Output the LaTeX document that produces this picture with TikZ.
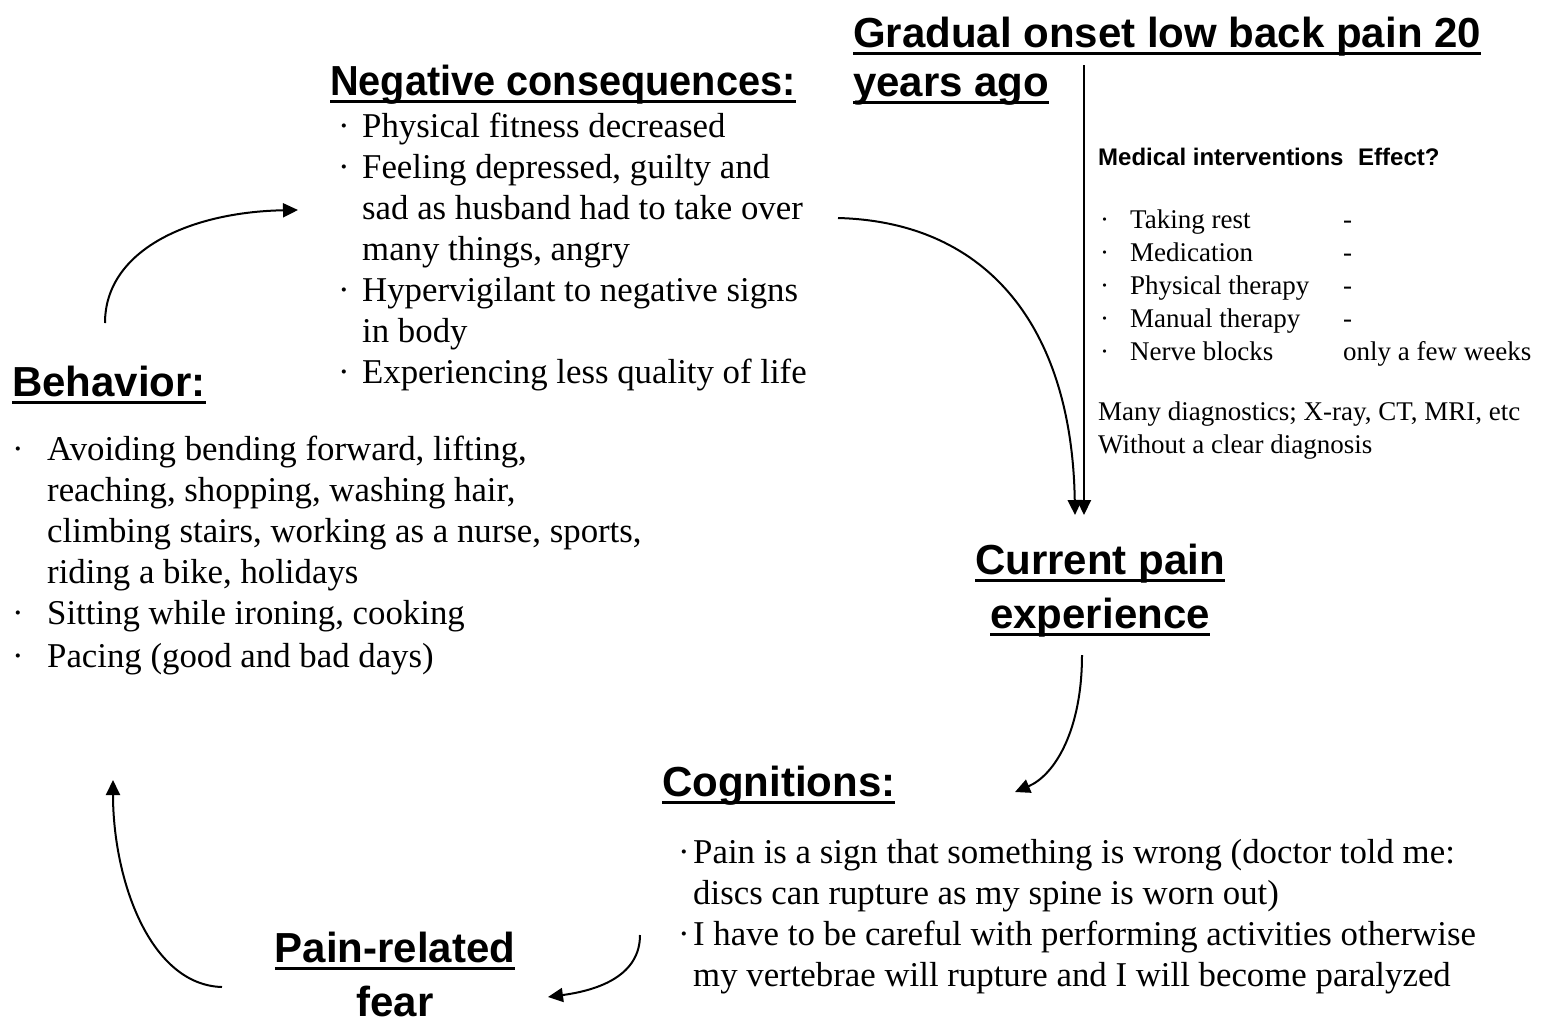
\documentclass[tikz,border=0pt]{standalone}
\usepackage{fontspec}
\setmainfont{Liberation Serif}
\setsansfont{Liberation Sans}
\usepackage{tikz}
\usetikzlibrary{arrows.meta,positioning,calc}

\newsavebox{\hdbox}
\newcommand{\headul}[1]{\sbox\hdbox{#1}\rlap{\rule[-7.5pt]{\wd\hdbox}{3pt}}\usebox\hdbox}

\begin{document}
\begin{tikzpicture}[x=1pt, y=-1pt,
  heading/.style={inner sep=0pt, font=\sffamily\bfseries\fontsize{42}{54}\selectfont},
  items/.style={inner sep=0pt, font=\fontsize{34.8}{41}\selectfont},
  small/.style={inner sep=0pt, font=\fontsize{27}{33}\selectfont},
  smallhead/.style={inner sep=0pt, font=\sffamily\bfseries\fontsize{24}{29}\selectfont},
  arr/.style={-{Triangle[length=15pt,width=14pt]}, line width=2pt}]
\useasboundingbox (0,0) rectangle (1567,1029);

% headings (base = last line)
\node[heading, anchor=base west] (neghead) at (330,95)
  {\headul{\scalebox{0.945}[1]{Negative consequences:}}};
\node[heading, anchor=base west, align=left, font=\sffamily\bfseries\fontsize{42}{49}\selectfont]
  (onset) at (853,96) {\headul{Gradual onset low back pain 20}\\ \headul{years ago}};
\node[heading, anchor=base west] (behhead) at (12,396) {\headul{Behavior:}};
\node[heading, anchor=base, align=center] (current) at (1100,628)
  {\headul{Current pain}\\ \headul{experience}};
\node[heading, anchor=base west] (coghead) at (662,796) {\headul{Cognitions:}};
\node[heading, anchor=base, align=center] (fear) at (395,1016)
  {\headul{Pain-related}\\ fear};

% lists
\node[items, anchor=base west] (neglist) at (338,137) {\begin{tabular}[t]{@{}p{24pt}@{}l@{}}
· & Physical fitness decreased\\
· & Feeling depressed, guilty and\\
  & sad as husband had to take over\\
  & many things, angry\\
· & Hypervigilant to negative signs\\
  & in body\\
· & Experiencing less quality of life
\end{tabular}};
\node[items, anchor=base west] (behlist) at (12,460) {\begin{tabular}[t]{@{}p{35pt}@{}l@{}}
· & Avoiding bending forward, lifting,\\
  & reaching, shopping, washing hair,\\
  & climbing stairs, working as a nurse, sports,\\
  & riding a bike, holidays\\
· & Sitting while ironing, cooking\\[2pt]
· & Pacing (good and bad days)
\end{tabular}};
\node[items, anchor=base west] (coglist) at (678,863) {\begin{tabular}[t]{@{}p{15pt}@{}l@{}}
· & Pain is a sign that something is wrong (doctor told me:\\
  & discs can rupture as my spine is worn out)\\
· & I have to be careful with performing activities otherwise\\
  & my vertebrae will rupture and I will become paralyzed
\end{tabular}};

% medical interventions
\node[smallhead, anchor=base west] (medhead) at (1098,165) {Medical interventions};
\node[smallhead, anchor=base west] (effhead) at (1358,165) {Effect?};
\node[small, anchor=base west] (medlist) at (1100,228) {\begin{tabular}[t]{@{}p{30pt}@{}p{213pt}@{}l@{}}
· & Taking rest & -\\
· & Medication & -\\
· & Physical therapy & -\\
· & Manual therapy & -\\
· & Nerve blocks & only a few weeks
\end{tabular}};
\node[small, anchor=base west, align=left] (diag) at (1098,453)
  {Many diagnostics; X-ray, CT, MRI, etc\\ Without a clear diagnosis};

% connectors
\coordinate (onsetout) at (1084,65);
\coordinate (currentin) at (1084,515);
\coordinate (negout) at (838,218);
\coordinate (currentin2) at (1075,515);
\coordinate (currentout) at (1082,655);
\coordinate (cogin) at (1015,792);
\coordinate (cogout) at (640,935);
\coordinate (fearin) at (548,997);
\coordinate (fearout) at (222,987);
\coordinate (behin) at (113,780);
\coordinate (behout) at (105,323);
\coordinate (negin) at (298,210);
\draw[arr] (onsetout) -- (currentin);
\draw[arr] (negout) .. controls (990,222) and (1072,330) .. (currentin2);
\draw[arr] (currentout) .. controls (1082,730) and (1055,775) .. (cogin);
\draw[arr] (cogout) .. controls (640,975) and (600,990) .. (fearin);
\draw[arr] (fearout) .. controls (150,985) and (113,880) .. (behin);
\draw[arr] (behout) .. controls (105,250) and (190,212) .. (negin);
\end{tikzpicture}
\end{document}
